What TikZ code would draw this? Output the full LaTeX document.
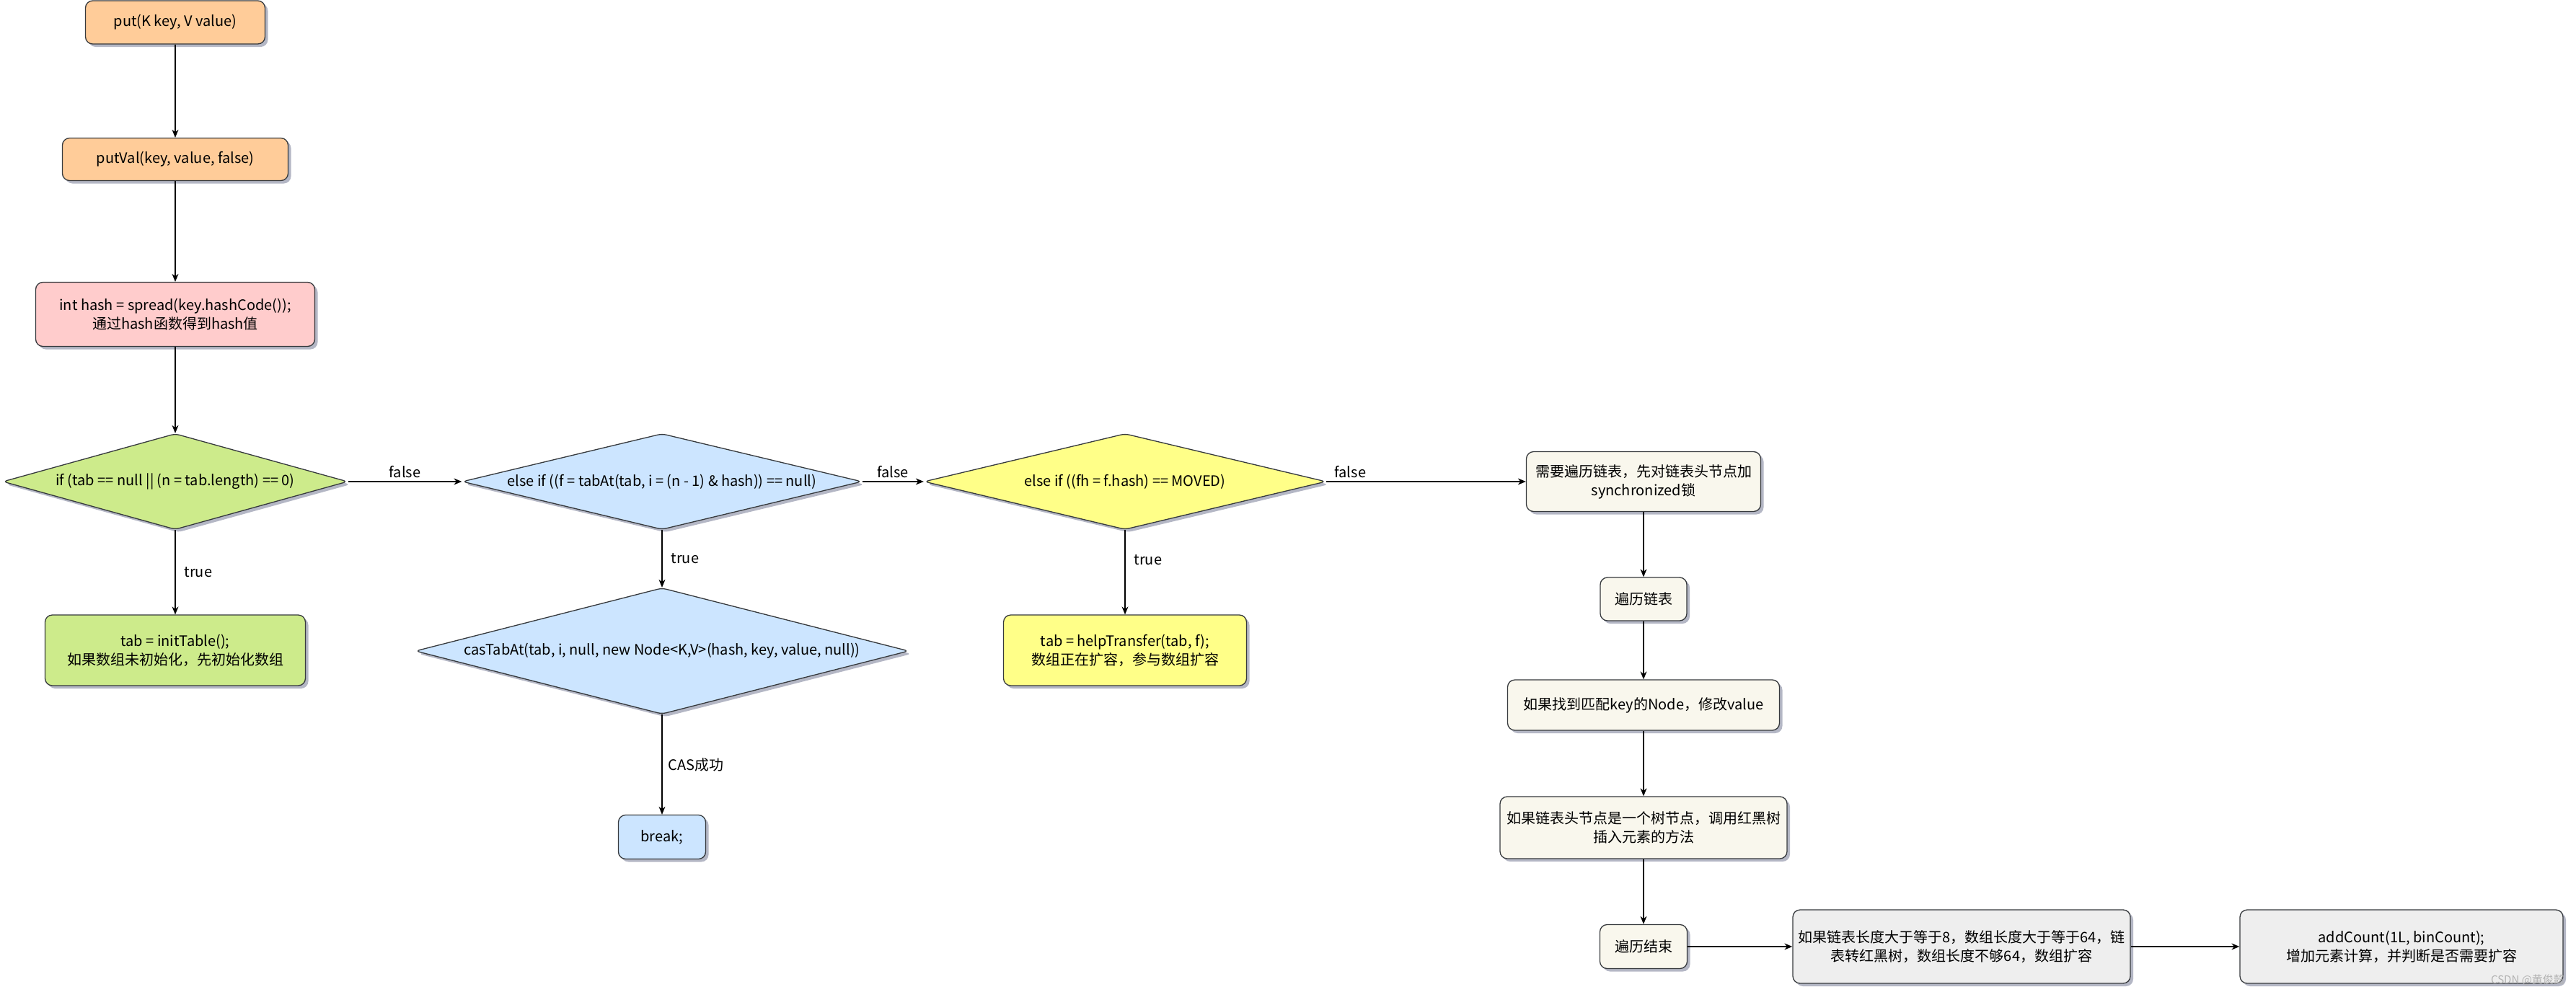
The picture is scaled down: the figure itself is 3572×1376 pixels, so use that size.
\documentclass[tikz,border=0pt]{standalone}
\usepackage{fontspec}
\setmainfont{Noto Sans CJK SC}
\usetikzlibrary{shapes.geometric,shadows,arrows.meta}
\definecolor{strokec}{HTML}{36393D}
\definecolor{shadowc}{RGB}{120,124,150}
\definecolor{orangec}{HTML}{FFCC99}
\definecolor{pinkc}{HTML}{FFCCCC}
\definecolor{greenc}{HTML}{CDEB8B}
\definecolor{bluec}{HTML}{CCE5FF}
\definecolor{yellowc}{HTML}{FFFF88}
\definecolor{beigec}{HTML}{F9F7ED}
\definecolor{grayc}{HTML}{EEEEEE}
\begin{document}
\begin{tikzpicture}[x=1pt,y=-1pt,
  shd/.style={drop shadow={shadow xshift=4pt,shadow yshift=-4pt,fill=shadowc,opacity=0.55}},
  box/.style={draw=strokec, line width=1.3pt, rounded corners=10pt, inner sep=0pt, align=center, font=\fontsize{20}{26}\selectfont, shd},
  dia/.style={diamond, draw=strokec, line width=1.3pt, rounded corners=6pt, inner sep=0pt, font=\fontsize{20}{26}\selectfont, shd},
  arr/.style={draw=black, line width=1.2pt, -{Stealth[length=11pt,width=9pt]}},
  lbl/.style={font=\fontsize{20}{24}\selectfont, inner sep=2pt, text=black}
]
\useasboundingbox (0,0) rectangle (3572,1376);
\fill[white] (0,0) rectangle (3572,1376);

% left column
\node[box, fill=orangec, minimum width=249pt, minimum height=60pt] (put) at (243,31) {put(K key, V value)};
\node[box, fill=orangec, minimum width=313pt, minimum height=59pt] (putval) at (243,221) {putVal(key, value, false)};
\node[box, fill=pinkc, minimum width=387pt, minimum height=89pt] (hash) at (243,436) {int hash = spread(key.hashCode());\\通过hash函数得到hash值};
\node[dia, fill=greenc, minimum width=478pt, minimum height=133pt] (gd) at (243,668) {\makebox[0pt]{if (tab == null || (n = tab.length) == 0)}};
\node[box, fill=greenc, minimum width=361pt, minimum height=98pt] (init) at (243,902) {tab = initTable();\\如果数组未初始化，先初始化数组};

% blue column
\node[dia, fill=bluec, minimum width=554pt, minimum height=133pt] (bd) at (918,668) {\makebox[0pt]{else if ((f = tabAt(tab, i = (n - 1) \& hash)) == null)}};
\node[dia, fill=bluec, minimum width=684pt, minimum height=175pt] (cas) at (918,903) {\makebox[0pt]{casTabAt(tab, i, null, new Node<K,V>(hash, key, value, null))}};
\node[box, fill=bluec, minimum width=121pt, minimum height=61pt] (brk) at (918,1161) {break;};

% yellow column
\node[dia, fill=yellowc, minimum width=557pt, minimum height=133pt] (yd) at (1560,668) {\makebox[0pt]{else if ((fh = f.hash) == MOVED)}};
\node[box, fill=yellowc, minimum width=337pt, minimum height=98pt] (help) at (1560,902) {tab = helpTransfer(tab, f);\\数组正在扩容，参与数组扩容};

% right column
\node[box, fill=beigec, minimum width=325pt, minimum height=83pt] (sync) at (2279,668) {需要遍历链表，先对链表头节点加\\synchronized锁};
\node[box, fill=beigec, minimum width=120pt, minimum height=60pt] (trav) at (2279,831) {遍历链表};
\node[box, fill=beigec, minimum width=377pt, minimum height=70pt] (found) at (2279,978) {如果找到匹配key的Node，修改value};
\node[box, fill=beigec, minimum width=398pt, minimum height=86pt] (tree) at (2279,1148) {如果链表头节点是一个树节点，调用红黑树\\插入元素的方法};
\node[box, fill=beigec, minimum width=121pt, minimum height=61pt] (tend) at (2279,1313) {遍历结束};
\node[box, fill=grayc, minimum width=468pt, minimum height=102pt] (long) at (2720,1313) {如果链表长度大于等于8，数组长度大于等于64，链\\表转红黑树，数组长度不够64，数组扩容};
\node[box, fill=grayc, minimum width=448pt, minimum height=102pt] (add) at (3330,1313) {addCount(1L, binCount);\\增加元素计算，并判断是否需要扩容};

% connectors
\draw[arr] (put) -- (putval);
\draw[arr] (putval) -- (hash);
\draw[arr] (hash) -- (gd);
\draw[arr] (gd) -- node[lbl, right=10pt] (t1) {true} (init);
\draw[arr] (gd) -- node[lbl, above=3pt] (f1) {false} (bd);
\draw[arr] (bd) -- node[lbl, right=10pt] (t2) {true} (cas);
\draw[arr] (cas) -- node[lbl, right=6pt] (c1) {CAS成功} (brk);
\draw[arr] (bd) -- node[lbl, above=3pt] (f2) {false} (yd);
\draw[arr] (yd) -- node[lbl, pos=0.35, right=10pt] (t3) {true} (help);
\draw[arr] (yd) -- node[lbl, pos=0.12, above=3pt] (f3) {false} (sync);
\draw[arr] (sync) -- (trav);
\draw[arr] (trav) -- (found);
\draw[arr] (found) -- (tree);
\draw[arr] (tree) -- (tend);
\draw[arr] (tend) -- (long);
\draw[arr] (long) -- (add);

\node[font=\fontsize{15}{18}\selectfont, text=gray!60, inner sep=0pt] (wm) at (3505,1359) {CSDN @黄俊懿};
\end{tikzpicture}
\end{document}
